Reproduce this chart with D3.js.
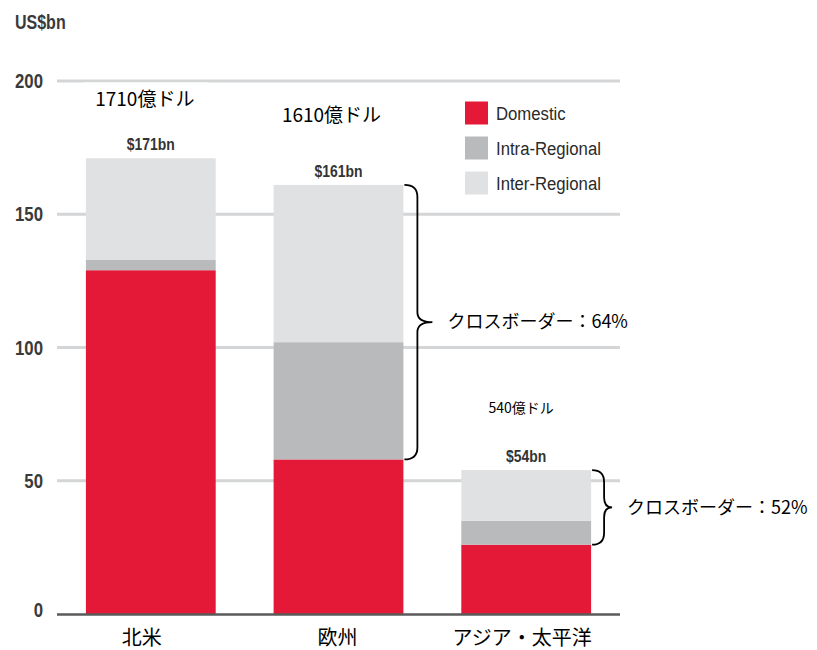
<!DOCTYPE html>
<html>
<head>
<meta charset="utf-8">
<script src="https://cdn.jsdelivr.net/npm/d3@7"></script>
<style>
  html, body { margin: 0; padding: 0; background: #fff; }
  svg { display: block; }
  .narrow { font-family: "Liberation Sans", Arial, sans-serif; }
  .jp { font-family: "Noto Sans CJK JP", "Noto Sans", sans-serif; }
</style>
</head>
<body>
<svg id="chart" width="817" height="650"></svg>
<script>
// ---- data ----
const categories = ["北米", "欧州", "アジア・太平洋"];
const seriesNames = ["Domestic", "Intra-Regional", "Inter-Regional"];
const domestic = [129, 58, 26];
const intraRegional = [4, 44, 9];
const interRegional = [38, 59, 19];
const totalLabels = ["$171bn", "$161bn", "$54bn"];
const jpTotalLabels = ["1710億ドル", "1610億ドル", "540億ドル"];
const crossBorderLabels = [null, "クロスボーダー：64%", "クロスボーダー：52%"];
const yTicks = [0, 50, 100, 150, 200];
const yUnit = "US$bn";
const colors = ["#e31937", "#b9babc", "#e0e1e3"];

// ---- layout ----
const svg = d3.select("#chart");
const x = d3.scaleBand().domain(categories).range([57, 620]).paddingInner(0.3085).paddingOuter(0.154);
const y = d3.scaleLinear().domain([0, 200]).range([614, 81]);

const rows = categories.map((c, i) => ({
  cat: c, Domestic: domestic[i], "Intra-Regional": intraRegional[i], "Inter-Regional": interRegional[i]
}));
const stacked = d3.stack().keys(seriesNames)(rows);

// condensed text helper (horizontal squeeze to mimic a narrow face)
function narrow(sel, fx, fy, sx) {
  sel.attr("class", "narrow")
    .attr("x", 0).attr("y", 0)
    .attr("transform", (d, i) => `translate(${fx(d, i)},${fy(d, i)}) scale(${sx},1)`);
  return sel;
}

// gridlines
svg.append("g").selectAll("line").data(yTicks.filter(d => d > 0)).join("line")
  .attr("x1", 57).attr("x2", 620)
  .attr("y1", d => y(d)).attr("y2", d => y(d))
  .attr("stroke", "#d4d5d7").attr("stroke-width", 3);

// white box behind first jp label
svg.append("rect").attr("x", 83).attr("y", 82.5).attr("width", 126).attr("height", 30).attr("fill", "#fff");

// tick labels
narrow(svg.append("g").selectAll("text").data(yTicks).join("text"),
  d => 43, d => y(d) + (d === 0 ? -4 : 0), 0.84)
  .attr("dy", "0.35em")
  .attr("text-anchor", "end")
  .attr("font-size", 20).attr("font-weight", "bold").attr("fill", "#3a3a3a")
  .text(d => d);

narrow(svg.append("text").datum(yUnit), () => 15, () => 29, 0.8)
  .attr("font-size", 20).attr("font-weight", "bold").attr("fill", "#3a3a3a")
  .text(d => d);

// bars
svg.append("g").selectAll("g").data(stacked).join("g")
  .attr("fill", (d, i) => colors[i])
  .selectAll("rect").data(d => d).join("rect")
  .attr("x", d => x(d.data.cat))
  .attr("width", x.bandwidth())
  .attr("y", d => y(d[1]))
  .attr("height", d => y(d[0]) - y(d[1]));

// baseline
svg.append("line").attr("x1", 57).attr("x2", 620).attr("y1", y(0) + 0.5).attr("y2", y(0) + 0.5)
  .attr("stroke", "#5a5a5a").attr("stroke-width", 2.5);

const totals = categories.map((c, i) => domestic[i] + intraRegional[i] + interRegional[i]);

// total labels ($bn)
narrow(svg.append("g").selectAll("text").data(categories).join("text"),
  d => x(d) + x.bandwidth() / 2, (d, i) => y(totals[i]) - 8, 0.82)
  .attr("text-anchor", "middle")
  .attr("font-size", 17).attr("font-weight", "bold").attr("fill", "#333")
  .text((d, i) => totalLabels[i]);

// Japanese total labels
const jpY = [106, 122, 413];
const jpSize = [19, 19, 14];
const jpDx = [-6, -7, -5];
svg.append("g").selectAll("text").data(categories).join("text")
  .attr("class", "jp")
  .attr("x", (d, i) => x(d) + x.bandwidth() / 2 + jpDx[i])
  .attr("y", (d, i) => jpY[i])
  .attr("text-anchor", "middle")
  .attr("font-size", (d, i) => jpSize[i]).attr("fill", "#000")
  .text((d, i) => jpTotalLabels[i]);

// category labels
const catDx = [-9, -1, -4];
svg.append("g").selectAll("text").data(categories).join("text")
  .attr("class", "jp")
  .attr("x", (d, i) => x(d) + x.bandwidth() / 2 + catDx[i])
  .attr("y", 645)
  .attr("text-anchor", "middle")
  .attr("font-size", 20).attr("fill", "#000")
  .text(d => d);

// legend
const lg = svg.append("g");
seriesNames.forEach((s, i) => {
  const cy = 113 + i * 35;
  lg.append("rect").attr("x", 465).attr("y", cy - 11.5).attr("width", 23).attr("height", 23).attr("fill", colors[i]);
  narrow(lg.append("text").datum(s), () => 496, () => cy, 0.88)
    .attr("dy", "0.35em")
    .attr("font-size", 19).attr("fill", "#2a2a2a").text(d => d);
});

// braces for cross-border share
function brace(x0, yTop, yBot, a, b) {
  const x1 = x0 + a, xt = x1 + b, ym = (yTop + yBot) / 2;
  const r = 12, r2 = 10;
  const p = d3.path();
  p.moveTo(x0, yTop);
  p.quadraticCurveTo(x1, yTop, x1, yTop + r);
  p.lineTo(x1, ym - r2);
  p.quadraticCurveTo(x1, ym, xt, ym);
  p.quadraticCurveTo(x1, ym, x1, ym + r2);
  p.lineTo(x1, yBot - r);
  p.quadraticCurveTo(x1, yBot, x0, yBot);
  return p.toString();
}
const braceA = [0, 13, 12];
const braceB = [0, 15, 8];
categories.forEach((c, i) => {
  if (!crossBorderLabels[i]) return;
  const x0 = x(c) + x.bandwidth() + 1;
  const yTop = y(totals[i]);
  const yBot = y(domestic[i]);
  svg.append("path").attr("d", brace(x0, yTop, yBot, braceA[i], braceB[i]))
    .attr("fill", "none").attr("stroke", "#000").attr("stroke-width", 1.8);
  svg.append("text").attr("class", "jp")
    .attr("x", x0 + braceA[i] + braceB[i] + 15)
    .attr("y", (yTop + yBot) / 2).attr("dy", "0.35em")
    .attr("font-size", 18).attr("fill", "#000")
    .text(crossBorderLabels[i]);
});
</script>
</body>
</html>
